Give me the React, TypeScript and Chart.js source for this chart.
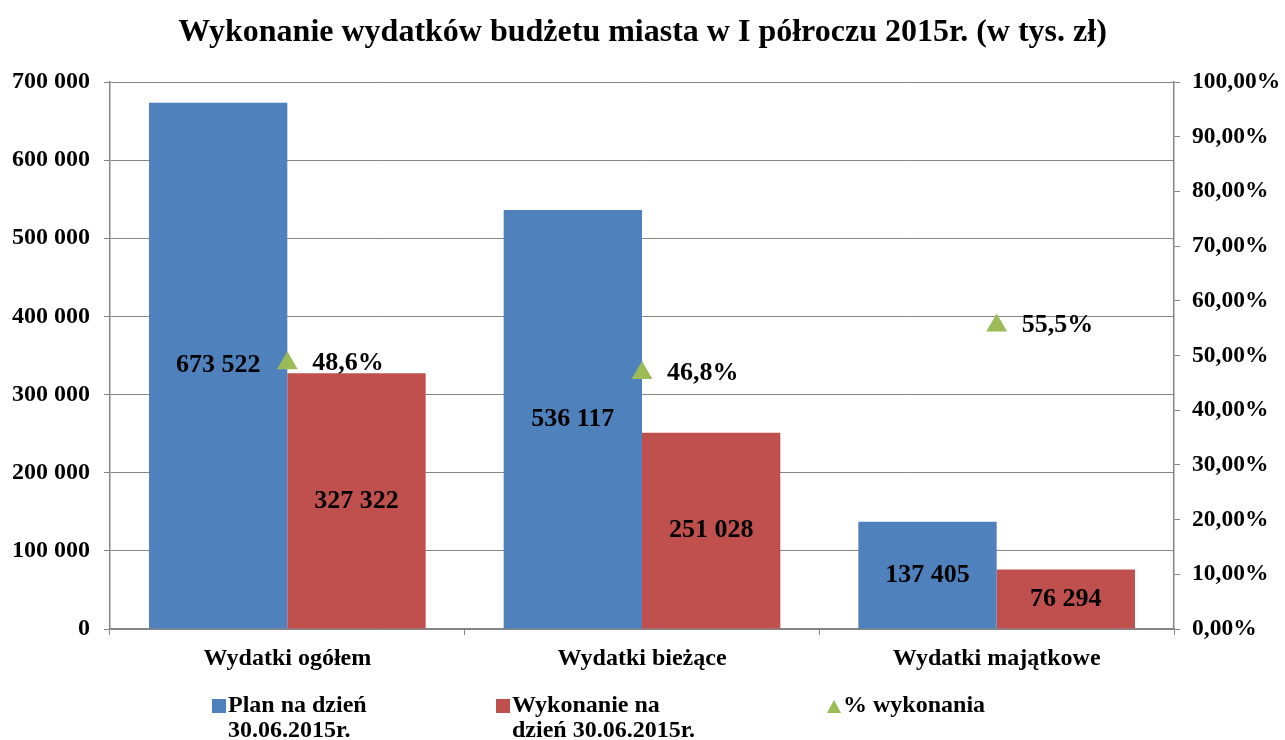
import React, { useEffect, useRef } from 'react';
import { Chart, registerables } from 'chart.js';

Chart.register(...registerables);

const categories = ['Wydatki ogółem', 'Wydatki bieżące', 'Wydatki majątkowe'];
const planValues = [673522, 536117, 137405];
const executionValues = [327322, 251028, 76294];
const percentValues = [48.6, 46.8, 55.5];
const seriesNames = ['Plan na dzień 30.06.2015r.', 'Wykonanie na dzień 30.06.2015r.', '% wykonania'];
const legendLines = [['Plan na dzień', '30.06.2015r.'], ['Wykonanie na', 'dzień 30.06.2015r.'], ['% wykonania']];
const titleText = 'Wykonanie wydatków budżetu miasta w I półroczu 2015r. (w tys. zł)';

const FONT = "'Times New Roman', 'Liberation Serif', serif";
const BLUE = '#4F81BD';
const RED = '#C0504D';
const GREEN = '#9BBB59';
const GRID = '#868686';

const fmtThousands = (n: number) => String(Math.round(n)).replace(/\B(?=(\d{3})+(?!\d))/g, ' ');
const fmtPct2 = (n: number) => n.toFixed(2).replace('.', ',') + '%';
const fmtPct1 = (n: number) => n.toFixed(1).replace('.', ',') + '%';

const valueLabels = {
  id: 'valueLabels',
  afterDatasetsDraw(chart: any) {
    const ctx = chart.ctx;
    ctx.save();
    ctx.font = `bold 26px ${FONT}`;
    ctx.fillStyle = '#000';
    chart.data.datasets.forEach((ds: any, i: number) => {
      const meta = chart.getDatasetMeta(i);
      meta.data.forEach((el: any, j: number) => {
        const v = ds.data[j] as number;
        if (meta.type === 'bar') {
          const p = el.getProps(['x', 'y', 'base'], true);
          ctx.textAlign = 'center';
          ctx.textBaseline = 'middle';
          ctx.fillText(fmtThousands(v), p.x, (p.y + p.base) / 2);
        } else {
          ctx.textAlign = 'left';
          ctx.textBaseline = 'middle';
          ctx.fillText(fmtPct1(v), el.x + 25, el.y);
        }
      });
    });
    ctx.restore();
  },
};

const customLegend = {
  id: 'customLegend',
  afterDraw(chart: any) {
    const ctx = chart.ctx;
    const colors = [BLUE, RED, GREEN];
    const xs = [212, 496, 827];
    const y0 = chart.height - 34;
    ctx.save();
    ctx.font = `bold 24px ${FONT}`;
    ctx.fillStyle = '#000';
    ctx.textAlign = 'left';
    ctx.textBaseline = 'middle';
    legendLines.forEach((lines, i) => {
      const x = xs[i];
      ctx.fillStyle = colors[i];
      if (i === 2) {
        ctx.beginPath();
        ctx.moveTo(x, y0 + 7);
        ctx.lineTo(x + 14, y0 + 7);
        ctx.lineTo(x + 7, y0 - 6);
        ctx.closePath();
        ctx.fill();
      } else {
        ctx.fillRect(x, y0 - 7, 14, 14);
      }
      ctx.fillStyle = '#000';
      lines.forEach((line, k) => {
        ctx.fillText(line, x + 16, y0 + k * 25);
      });
    });
    ctx.restore();
  },
};

export default function App() {
  const ref = useRef<HTMLCanvasElement>(null);
  useEffect(() => {
    if (!ref.current) return;
    const chart = new Chart(ref.current, {
      type: 'bar',
      data: {
        labels: categories,
        datasets: [
          {
            type: 'line',
            label: seriesNames[2],
            data: percentValues,
            yAxisID: 'y1',
            showLine: false,
            pointStyle: 'triangle',
            pointRadius: 12,
            pointBackgroundColor: GREEN,
            pointBorderWidth: 0,
            borderColor: GREEN,
            backgroundColor: GREEN,
            order: 0,
          } as any,
          {
            type: 'bar',
            label: seriesNames[0],
            data: planValues,
            backgroundColor: BLUE,
            yAxisID: 'y',
            barPercentage: 1,
            categoryPercentage: 0.78,
            order: 1,
          },
          {
            type: 'bar',
            label: seriesNames[1],
            data: executionValues,
            backgroundColor: RED,
            yAxisID: 'y',
            barPercentage: 1,
            categoryPercentage: 0.78,
            order: 1,
          },
        ],
      },
      options: {
        responsive: false,
        animation: false,
        layout: { padding: { left: 0, right: 0, top: 0, bottom: 60 } },
        plugins: {
          legend: { display: false },
          tooltip: { enabled: false },
          title: {
            display: true,
            text: titleText,
            color: '#000',
            font: { family: FONT, size: 32, weight: 'bold' },
            padding: { top: 14, bottom: 29.6 },
          },
        },
        scales: {
          x: {
            offset: true,
            grid: {
              offset: true,
              drawOnChartArea: false,
              drawTicks: true,
              tickLength: 6,
              color: GRID,
            },
            border: { color: GRID, width: 1.5 },
            ticks: {
              color: '#000',
              font: { family: FONT, size: 24, weight: 'bold' },
              padding: 9,
            },
            afterFit: (s: any) => { s.height = 51; },
          },
          y: {
            position: 'left',
            min: 0,
            max: 700000,
            ticks: {
              stepSize: 100000,
              color: '#000',
              font: { family: FONT, size: 24, weight: 'bold' },
              padding: 14,
              callback: (v: any) => fmtThousands(Number(v)),
            },
            grid: { color: GRID, lineWidth: 1, tickLength: 6 },
            border: { color: GRID, width: 1.5 },
            afterFit: (s: any) => { s.width = 110; },
          },
          y1: {
            position: 'right',
            min: 0,
            max: 100,
            ticks: {
              stepSize: 10,
              color: '#000',
              font: { family: FONT, size: 23.5, weight: 'bold' },
              padding: 12,
              callback: (v: any) => fmtPct2(Number(v)),
            },
            grid: { drawOnChartArea: false, color: GRID, tickLength: 6 },
            border: { color: GRID, width: 1.5 },
            afterFit: (s: any) => { s.width = 111; },
          },
        },
      } as any,
      plugins: [valueLabels, customLegend],
    });
    return () => chart.destroy();
  }, []);
  return (
    <div style={{ position: 'absolute', left: 0, top: 0, width: 1285, height: 740, background: '#fff' }}>
      <canvas ref={ref} width={1285} height={740} />
    </div>
  );
}
